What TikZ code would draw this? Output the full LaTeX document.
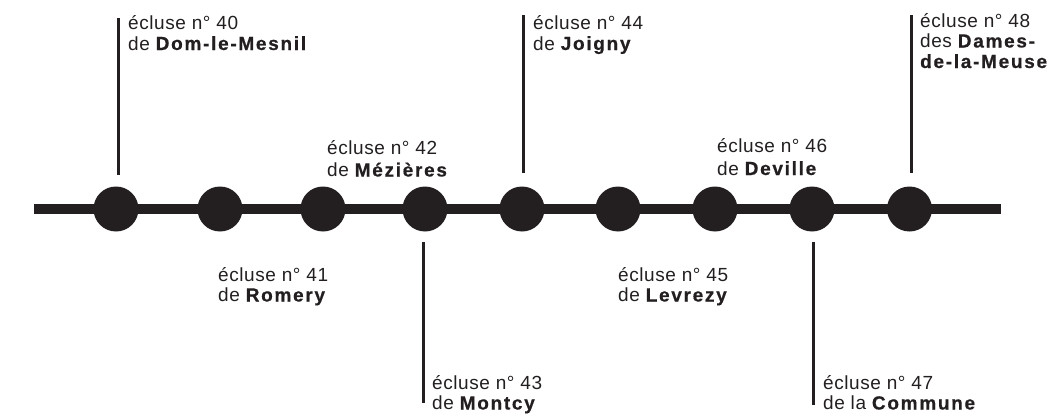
\documentclass[tikz,border=0pt]{standalone}
\usepackage{fontspec}
\setmainfont{Liberation Sans}[LetterSpace=3]
\newfontfamily\namefont{Liberation Sans}[UprightFont=* Bold, LetterSpace=9, FakeBold=0.6]
\newcommand{\nm}[1]{{\namefont #1}}
\definecolor{ink}{HTML}{231F20}
\begin{document}
\begin{tikzpicture}[x=1pt,y=-1pt,
  lock/.style={circle, fill=ink, minimum size=45pt, inner sep=0pt},
  tick/.style={draw=ink, line width=3pt},
  river/.style={draw=ink, line width=10pt},
  lbl/.style={anchor=base west, align=left, inner sep=0pt, text=ink,
    font=\fontsize{19}{20.5}\selectfont}]
\useasboundingbox (0,0) rectangle (1053,415);
% main line
\coordinate (L) at (34,209);
\coordinate (R) at (1001,209);
\draw[river] (L) -- (R);
% locks
\node[lock] (c40) at (116,209) {};
\node[lock] (c41) at (220,209) {};
\node[lock] (c42) at (323,209) {};
\node[lock] (c43) at (425,209) {};
\node[lock] (c44) at (522,209) {};
\node[lock] (c45) at (618,209) {};
\node[lock] (c46) at (715,209) {};
\node[lock] (c47) at (812,209) {};
\node[lock] (c48) at (909.5,209) {};
% ticks
\coordinate (a40) at (118,18);  \coordinate (b40) at (118,175);
\coordinate (a44) at (523,15);  \coordinate (b44) at (523,173);
\coordinate (a48) at (911,15);  \coordinate (b48) at (911,173);
\coordinate (a43) at (423,242); \coordinate (b43) at (423,403);
\coordinate (a47) at (813,242); \coordinate (b47) at (813,405);
\draw[tick] (a40) -- (b40);
\draw[tick] (a44) -- (b44);
\draw[tick] (a48) -- (b48);
\draw[tick] (a43) -- (b43);
\draw[tick] (a47) -- (b47);
% labels (anchor = baseline of last line)
\node[lbl] (t40) at (128,50) {écluse n° 40\\de \nm{Dom-le-Mesnil}};
\node[lbl] (t41) at (218,301.5) {écluse n° 41\\de \nm{Romery}};
\node[lbl] (t42) at (327,176.5) {écluse n° 42\\[2pt]de \nm{Mézières}};
\node[lbl] (t43) at (432,409.5) {écluse n° 43\\de \nm{Montcy}};
\node[lbl] (t44) at (533,50) {écluse n° 44\\de \nm{Joigny}};
\node[lbl] (t45) at (618,301.5) {écluse n° 45\\de \nm{Levrezy}};
\node[lbl] (t46) at (717,175) {écluse n° 46\\[2pt]de \nm{Deville}};
\node[lbl] (t47) at (823,409.5) {écluse n° 47\\de la \nm{Commune}};
\node[lbl] (t48) at (920,68) {écluse n° 48\\des \nm{Dames-}\\\nm{de-la-Meuse}};
\end{tikzpicture}
\end{document}
